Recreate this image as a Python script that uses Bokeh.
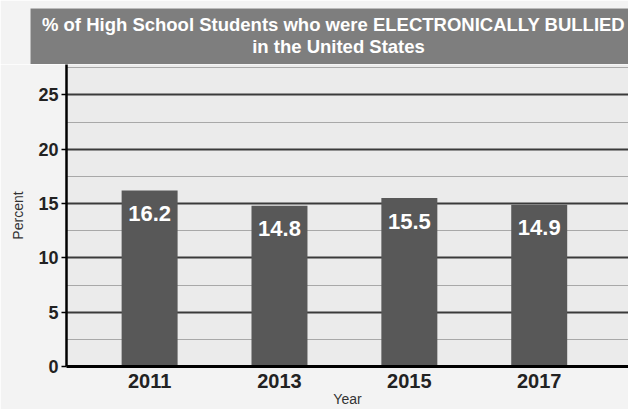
from bokeh.plotting import figure
from bokeh.models import Range1d, FixedTicker
from bokeh.layouts import column
from bokeh.embed import file_html
from bokeh.resources import INLINE
from bokeh.core.properties import value

# ---- data ----
years = [2011, 2013, 2015, 2017]
percent = [16.2, 14.8, 15.5, 14.9]
bar_labels = ["16.2", "14.8", "15.5", "14.9"]
title_lines = ["% of High School Students who were ELECTRONICALLY BULLIED",
               "in the United States"]
y_ticks = [0, 5, 10, 15, 20, 25]
y_minor = [2.5, 7.5, 12.5, 17.5, 22.5, 27.5]
x_tick_labels = {2011: "2011", 2013: "2013", 2015: "2015", 2017: "2017"}

FONT = "Liberation Sans"
BG = "#f3f3f3"

# ---- title bar ----
head = figure(width=628, height=64, x_range=Range1d(30, 628), y_range=Range1d(0, 56),
              output_backend="svg", toolbar_location=None,
              x_axis_location=None, y_axis_location=None,
              min_border_left=30, min_border_right=0, min_border_top=8, min_border_bottom=0)
head.frame_align = False
head.grid.visible = False
head.background_fill_color = "#7e7e7e"
head.border_fill_color = BG
head.outline_line_color = None
head.text(x=[333, 338], y=[40, 18], text=title_lines,
          text_font=value(FONT), text_font_style="bold", text_font_size="18.5px",
          text_color="white", text_align="center", text_baseline="middle")

# ---- main chart ----
p = figure(width=628, height=345, x_range=Range1d(2009.72, 2018.375), y_range=Range1d(0, 27.8),
           output_backend="svg", toolbar_location=None,
           min_border_left=66, min_border_right=0, min_border_top=0, min_border_bottom=42)
p.frame_align = False
p.background_fill_color = "#ebebeb"
p.border_fill_color = BG
p.outline_line_color = None

p.vbar(x=years, top=percent, width=0.862, fill_color="#585858", line_color=None)
p.text(x=years, y=percent, text=bar_labels, y_offset=23,
       text_font=value(FONT), text_font_style="bold", text_font_size="22px",
       text_color="white", text_align="center", text_baseline="middle")

p.xgrid.grid_line_color = None
p.ygrid.ticker = FixedTicker(ticks=y_ticks, minor_ticks=y_minor)
p.ygrid.grid_line_color = "#3a3a3a"
p.ygrid.grid_line_width = 2
p.ygrid.minor_grid_line_color = "#a8a8a8"
p.ygrid.minor_grid_line_width = 1

p.yaxis.ticker = FixedTicker(ticks=y_ticks, minor_ticks=y_minor)
p.yaxis.axis_label = "Percent"
p.yaxis.axis_label_standoff = 9
p.yaxis.axis_label_text_font = FONT
p.yaxis.axis_label_text_font_style = "normal"
p.yaxis.axis_label_text_font_size = "14px"
p.yaxis.axis_label_text_color = "#333333"
p.yaxis.axis_line_color = "black"
p.yaxis.axis_line_width = 2.5
p.yaxis.major_tick_out = 5
p.yaxis.major_tick_in = 0
p.yaxis.major_tick_line_width = 1.5
p.yaxis.minor_tick_out = 0
p.yaxis.minor_tick_in = 0
p.yaxis.major_label_standoff = 3
p.yaxis.major_label_text_font = FONT
p.yaxis.major_label_text_font_style = "bold"
p.yaxis.major_label_text_font_size = "18px"
p.yaxis.major_label_text_color = "#222222"

p.xaxis.ticker = FixedTicker(ticks=years)
p.xaxis.major_label_overrides = x_tick_labels
p.xaxis.axis_label = "Year"
p.xaxis.axis_label_standoff = 0
p.xaxis.axis_label_text_font = FONT
p.xaxis.axis_label_text_font_style = "normal"
p.xaxis.axis_label_text_font_size = "14px"
p.xaxis.axis_label_text_color = "#333333"
p.xaxis.axis_line_color = "black"
p.xaxis.axis_line_width = 3
p.xaxis.major_tick_out = 0
p.xaxis.major_tick_in = 0
p.xaxis.minor_tick_out = 0
p.xaxis.minor_tick_in = 0
p.xaxis.major_label_standoff = 7
p.xaxis.major_label_text_font = FONT
p.xaxis.major_label_text_font_style = "bold"
p.xaxis.major_label_text_font_size = "20px"
p.xaxis.major_label_text_color = "#222222"

layout = column(head, p, spacing=0)
open("out.html", "w").write(file_html(layout, INLINE))
